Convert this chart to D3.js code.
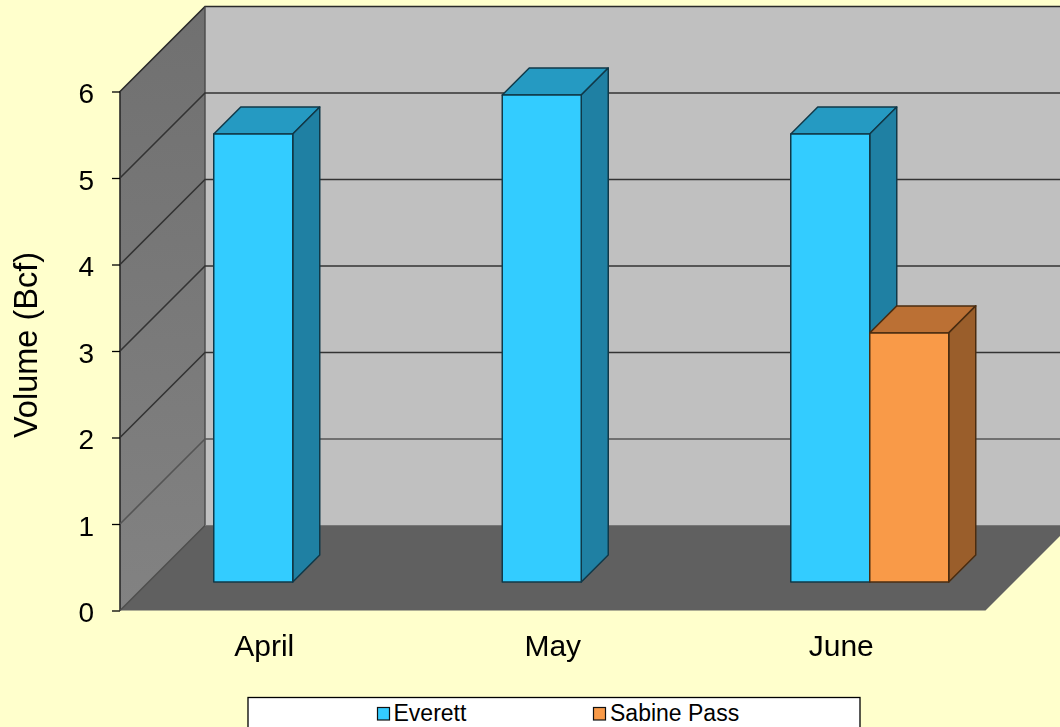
<!DOCTYPE html>
<html><head><meta charset="utf-8">
<script src="https://cdn.jsdelivr.net/npm/d3@7"></script>
<style>html,body{margin:0;padding:0;background:#FFFFCC;overflow:hidden}svg{display:block;filter:blur(.4px)}text{font-family:"Liberation Sans",Arial,sans-serif;fill:#000}</style>
</head><body><svg id="c" width="1060" height="727"></svg>
<script>
const categories=["April","May","June"];
const seriesNames=["Everett","Sabine Pass"];
const everett=[5.18,5.63,5.18];
const sabinePass=[null,null,2.88];
const yTicks=[0,1,2,3,4,5,6];
const faceColors=["#33CCFF","#F99A48"];
const topColors=["#259AC2","#BB7034"];
const sideColors=["#1F80A3","#9A5E2B"];

const svg=d3.select("#c");
const x=d3.scaleBand().domain(categories).range([120,985.5]);
const y=d3.scaleLinear().domain([0,6]).range([610.5,91.5]);
const depth=85,barDepth=27,barInset=28.5,barW=79;
const line=d3.line();
const poly=(pts,fill,stroke="none",sw=0)=>svg.append("path").attr("d",line(pts)+"Z").attr("fill",fill).attr("stroke",stroke).attr("stroke-width",sw).attr("stroke-linejoin","round");
const y0=y(0),yTop=y(6),xL=x.range()[0],xR=x.range()[1];

// back wall, floor, side wall
poly([[xL+depth,yTop-depth],[1060,yTop-depth],[1060,y0-depth],[xL+depth,y0-depth]],"#C0C0C0");
poly([[xL,y0],[xR,y0],[xR+depth,y0-depth],[xL+depth,y0-depth]],"#606060");
const grad=svg.append("defs").append("linearGradient").attr("id","side").attr("x1",0).attr("y1",0).attr("x2",0).attr("y2",1);
grad.append("stop").attr("offset",0).attr("stop-color","#707070");
grad.append("stop").attr("offset",1).attr("stop-color","#828282");
poly([[xL,y0],[xL,yTop],[xL+depth,yTop-depth],[xL+depth,y0-depth]],"url(#side)");
// edges
svg.append("path").attr("d",line([[xL,y0],[xL,yTop],[xL+depth,yTop-depth],[1060,yTop-depth]])).attr("fill","none").attr("stroke","#2a2a2a").attr("stroke-width",1.6);
svg.append("path").attr("d",line([[xL+depth,yTop-depth],[xL+depth,y0-depth],[xL,y0]])).attr("fill","none").attr("stroke","#4a4a4a").attr("stroke-width",1.4);
svg.append("path").attr("d",line([[xL+depth,y0-depth],[1060,y0-depth]])).attr("fill","none").attr("stroke","#777").attr("stroke-width",1);
// gridlines
yTicks.filter(t=>t>0&&t<6).forEach(t=>{
  svg.append("path").attr("d",line([[xL,y(t)],[xL+depth,y(t)-depth],[1060,y(t)-depth]])).attr("fill","none").attr("stroke",t===1?"#555":"#333").attr("stroke-width",1.6);
});
// axes
const ax=svg.append("g").attr("transform",`translate(${xL},0)`).call(d3.axisLeft(y).tickValues(yTicks).tickSize(8).tickPadding(18).tickFormat(d3.format("d")));
ax.select(".domain").remove();
ax.selectAll("line").attr("stroke","#000").attr("stroke-width",1.3);
ax.selectAll("text").attr("font-size",28).attr("dy","0.4em").style("font-family",'"Liberation Sans",Arial,sans-serif');
const bx=svg.append("g").attr("transform",`translate(0,${y0})`).call(d3.axisBottom(x).tickSize(0).tickPadding(0));
bx.select(".domain").remove();
bx.selectAll("text").attr("font-size",30).attr("dy",0).attr("y",45.5).style("font-family",'"Liberation Sans",Arial,sans-serif');
svg.append("text").attr("transform","translate(37,345) rotate(-90)").attr("text-anchor","middle").attr("font-size",32.5).text("Volume (Bcf)");

// bars
[everett,sabinePass].forEach((vals,s)=>{
  vals.forEach((v,i)=>{
    if(v==null)return;
    const c=x(categories[i])+x.bandwidth()/2+barInset;
    const l=c-barW+s*barW,r=l+barW,b=y(0)-barInset,t=y(v)-barInset,d=barDepth;
    const sw=1.5;
    const edge=s===0?"#103848":"#4a2c10";
    poly([[l,t],[r,t],[r+d,t-d],[l+d,t-d]],topColors[s],edge,sw);
    poly([[r,t],[r+d,t-d],[r+d,b-d],[r,b]],sideColors[s],edge,sw);
    poly([[l,t],[r,t],[r,b],[l,b]],faceColors[s],edge,sw);
  });
});

// legend
svg.append("rect").attr("x",248).attr("y",697.5).attr("width",612).attr("height",40).attr("fill","#fff").attr("stroke","#000").attr("stroke-width",1.3);
const lx=[377.5,593.5],ltx=[393.5,610];
seriesNames.forEach((n,i)=>{
  svg.append("rect").attr("x",lx[i]).attr("y",707.5).attr("width",12).attr("height",12.5).attr("fill",faceColors[i]).attr("stroke","#111").attr("stroke-width",1.2);
  svg.append("text").attr("x",ltx[i]).attr("y",721).attr("font-size",23).text(n);
});
</script></body></html>
